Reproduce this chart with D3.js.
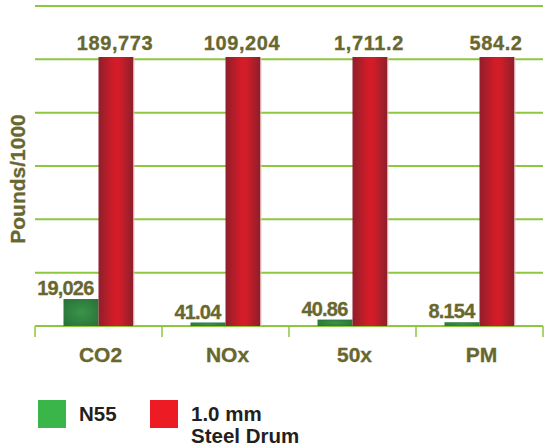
<!DOCTYPE html>
<html>
<head>
<meta charset="utf-8">
<script src="https://cdn.jsdelivr.net/npm/d3@7"></script>
<style>
  html, body { margin: 0; padding: 0; background: #ffffff; }
  svg { display: block; }
  text { font-family: "Liberation Sans", Arial, Helvetica, sans-serif; font-weight: bold; }
</style>
</head>
<body>
<svg id="chart" width="546" height="448"></svg>
<script>
const categories = ["CO2", "NOx", "50x", "PM"];
const n55Values = [19026, 41.04, 40.86, 8.154];
const drumValues = [189773, 109204, 1711.2, 584.2];
const n55Labels = ["19,026", "41.04", "40.86", "8.154"];
const drumLabels = ["189,773", "109,204", "1,711.2", "584.2"];
const seriesNames = ["N55", "1.0 mm|Steel Drum"];
const gridTicks = [0, 1, 2, 3, 4, 5, 6];

const svg = d3.select("#chart");
const left = 35, right = 543, baseline = 326, topY = 6;
const barTop = 57;
const olive = "#68672f";
const gridColor = "#8dc63f";

const defs = svg.append("defs");
const rg = defs.append("linearGradient").attr("id", "redGrad").attr("x1", "0").attr("x2", "1").attr("y1", "0").attr("y2", "0");
rg.append("stop").attr("offset", "0%").attr("stop-color", "#8e1f2b");
rg.append("stop").attr("offset", "45%").attr("stop-color", "#d41c27");
rg.append("stop").attr("offset", "60%").attr("stop-color", "#d11d28");
rg.append("stop").attr("offset", "100%").attr("stop-color", "#8c1f2b");
const gg = defs.append("radialGradient").attr("id", "greenGrad").attr("cx", "50%").attr("cy", "50%").attr("r", "70%");
gg.append("stop").attr("offset", "0%").attr("stop-color", "#3a9447");
gg.append("stop").attr("offset", "100%").attr("stop-color", "#27703a");

const x = d3.scaleBand().domain(categories).range([left, right]).paddingInner(0).paddingOuter(0);
const grid = d3.scaleLinear().domain([0, 6]).range([baseline, topY]);
const barW = 35;

// grid lines
svg.append("g").selectAll("line").data(gridTicks).join("line")
  .attr("x1", left).attr("x2", right)
  .attr("y1", d => grid(d)).attr("y2", d => grid(d))
  .attr("stroke", gridColor).attr("stroke-width", 2);

// category boundary ticks
const bounds = categories.map(c => x(c)).concat([x(categories[categories.length - 1]) + x.bandwidth()]);
svg.append("g").selectAll("line").data(bounds).join("line")
  .attr("x1", d => d).attr("x2", d => d)
  .attr("y1", baseline).attr("y2", baseline + 11)
  .attr("stroke", gridColor).attr("stroke-width", 1.5);

// per-category scale (chart is not to a common scale)
const yFor = i => d3.scaleLinear().domain([0, drumValues[i]]).range([baseline, barTop]);
const greenTop = i => Math.min(yFor(i)(n55Values[i]), baseline - 3.5);

const groups = svg.append("g").selectAll("g").data(categories).join("g");

// green bars
groups.append("rect")
  .attr("x", (c) => x(c) + x.bandwidth() / 2 - barW)
  .attr("width", barW)
  .attr("y", (c, i) => greenTop(i))
  .attr("height", (c, i) => baseline - greenTop(i))
  .attr("fill", "url(#greenGrad)");

// red bars
groups.append("rect")
  .attr("x", (c) => x(c) + x.bandwidth() / 2)
  .attr("width", barW)
  .attr("y", (c, i) => yFor(i)(drumValues[i]))
  .attr("height", (c, i) => baseline - yFor(i)(drumValues[i]))
  .attr("fill", "url(#redGrad)");
groups.append("line")
  .attr("x1", c => x(c) + x.bandwidth() / 2 + barW + 0.5)
  .attr("x2", c => x(c) + x.bandwidth() / 2 + barW + 0.5)
  .attr("y1", (c, i) => yFor(i)(drumValues[i]))
  .attr("y2", baseline)
  .attr("stroke", "#f0c8cc").attr("stroke-width", 1);

// red value labels
groups.append("text")
  .attr("x", c => x(c) + x.bandwidth() / 2 + barW / 2 - 1)
  .attr("y", (c, i) => yFor(i)(drumValues[i]) - 7)
  .attr("text-anchor", "middle")
  .attr("font-size", 20)
  .attr("letter-spacing", 0.6)
  .attr("fill", olive).attr("stroke", olive).attr("stroke-width", 0.3)
  .text((c, i) => drumLabels[i]);

// green value labels
groups.append("text")
  .attr("x", c => x(c) + x.bandwidth() / 2 - 5)
  .attr("y", (c, i) => greenTop(i) - 4)
  .attr("text-anchor", "end")
  .attr("font-size", 20)
  .attr("letter-spacing", -0.8)
  .attr("fill", olive).attr("stroke", olive).attr("stroke-width", 0.3)
  .text((c, i) => n55Labels[i]);

// category labels
groups.append("text")
  .attr("x", c => x(c) + x.bandwidth() / 2 + 2)
  .attr("y", 362)
  .attr("text-anchor", "middle")
  .attr("font-size", 21)
  .attr("fill", olive).attr("stroke", olive).attr("stroke-width", 0.3)
  .text(c => c);

// y axis title
svg.append("text")
  .attr("transform", "translate(25,179) rotate(-90)")
  .attr("text-anchor", "middle")
  .attr("font-size", 21)
  .attr("fill", olive).attr("stroke", olive).attr("stroke-width", 0.3)
  .text("Pounds/1000");

// legend
const legendColors = ["#39b54a", "#ed1c24"];
const legendX = [38, 150];
const lg = svg.append("g").selectAll("g").data(seriesNames).join("g")
  .attr("transform", (d, i) => `translate(${legendX[i]},400)`);
lg.append("rect").attr("width", 28).attr("height", 28).attr("fill", (d, i) => legendColors[i]);
lg.append("text")
  .attr("x", 41).attr("y", 21)
  .attr("font-size", 20.5)
  .attr("fill", "#231f20")
  .selectAll("tspan").data(d => d.split("|")).join("tspan")
  .attr("x", 41).attr("dy", (d, i) => i === 0 ? 0 : 22)
  .text(d => d);
</script>
</body>
</html>
